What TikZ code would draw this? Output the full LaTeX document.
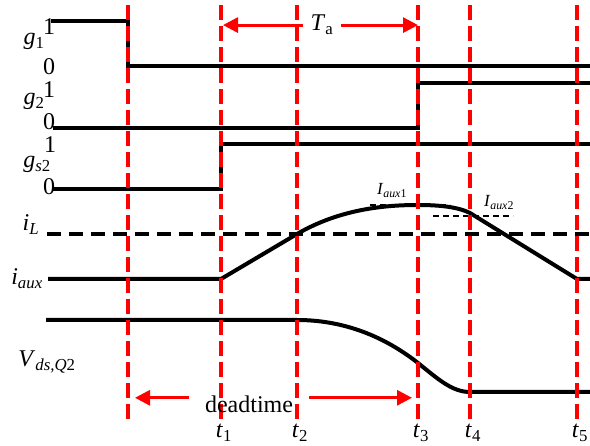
\documentclass[tikz,border=0pt]{standalone}
\usepackage{fontspec}
\setmainfont{Liberation Serif}
\usetikzlibrary{arrows.meta}
\newcommand{\sig}[2]{\textit{#1}\textsubscript{#2}}

\begin{document}
\begin{tikzpicture}[x=1pt,y=-1pt,
   wave/.style={black, line width=4pt},
   tline/.style={red, line width=3.5pt, dash pattern=on 15pt off 6pt},
   redarrow/.style={red, line width=3pt, -{Triangle[length=15pt,width=15pt]}},
   lbl/.style={font=\fontsize{24}{28}\selectfont, anchor=base, inner sep=0pt},
   small/.style={font=\fontsize{17}{20}\selectfont, anchor=base, inner sep=0pt}]

   \useasboundingbox (0,0) rectangle (590,446);
% Zeitpunkte
   \coordinate (t0) at (128,5);
   \coordinate (t1) at (221,5);
   \coordinate (t2) at (297,5);
   \coordinate (t3) at (418,5);
   \coordinate (t4) at (470,5);
   \coordinate (t5) at (577,5);
\def\xe{590} % rechter Rand

% Gate-Signale
   \draw[wave] (51,21) -- (t0 |- 0,21) -- (t0 |- 0,66) -- (\xe,66);
   \draw[wave] (53,128) -- (t3 |- 0,128) -- (t3 |- 0,83) -- (\xe,83);
   \draw[wave] (53,189) -- (t1 |- 0,189) -- (t1 |- 0,144) -- (\xe,144);

% Stroeme
   \draw[wave, dash pattern=on 14pt off 8pt] (47,234) -- (\xe,234);
   \draw[wave] (48,279) -- (t1 |- 0,279) -- (t2 |- 0,234)
      .. controls (340,209) and (385,205) .. (t3 |- 0,205)
      .. controls (440,205) and (458,207) .. (t4 |- 0,213)
      -- (t5 |- 0,279) -- (\xe,279);
   \draw[black, line width=1.3pt, dash pattern=on 6pt off 4pt] (370,205) -- (450,205);
   \draw[black, line width=1.3pt, dash pattern=on 6pt off 4pt] (433,216) -- (513,216);

% Spannung
   \draw[wave] (46,320) -- (t2 |- 0,320)
      .. controls (350,320) and (390,341) .. (t3 |- 0,363)
      .. controls (438,379) and (452,392) .. (t4 |- 0,392) -- (\xe,392);

% rote Markierungen
   \foreach \i in {0,...,5}
      \draw[tline] (t\i) -- (t\i |- 0,420);
   \foreach \i in {1,...,5}
      \node[lbl, xshift=3pt] (lt\i) at (t\i |- 0,438) {\sig{t}{\i}};

   \node[lbl, inner xsep=7pt] (Ta) at (322,31) {\sig{T}{a}};
   \draw[redarrow, shorten >=2pt] (Ta.west) -- (t1 |- Ta.west);
   \draw[redarrow] (Ta.east) -- (t3 |- Ta.east);

   \node[lbl, inner xsep=16pt] (dt) at (249,413) {deadtime};
   \draw[redarrow, shorten >=7pt] (dt.west) ++(0,-7) coordinate (dtl) -- (t0 |- dtl);
   \draw[redarrow, shorten >=6pt] (dt.east) ++(0,-7) coordinate (dtr) -- (t3 |- dtr);

% Beschriftungen
   \node[lbl] (lg1) at (34,45) {\sig{g}{1}};
   \node[lbl] (lg1h) at (49,35) {1};
   \node[lbl] (lg1l) at (49,75) {0};
   \node[lbl] (lg2) at (34,105) {\sig{g}{2}};
   \node[lbl] (lg2h) at (49,98) {1};
   \node[lbl] (lg2l) at (49,130) {0};
   \node[lbl] (lgs2) at (37,168) {\sig{g}{\textit{s}2}};
   \node[lbl] (lgs2h) at (50,153) {1};
   \node[lbl] (lgs2l) at (49,195) {0};
   \node[lbl] (liL) at (31,231) {\sig{i}{\textit{L}}};
   \node[lbl] (liaux) at (27,285) {\sig{i}{\textit{aux}}};
   \node[lbl] (lvds) at (47,367) {\sig{V}{\textit{ds,Q}2}};
   \node[small] (lI1) at (392,195) {\sig{I}{\textit{aux}1}};
   \node[small] (lI2) at (499,207) {\sig{I}{\textit{aux}2}};

\end{tikzpicture}
\end{document}
